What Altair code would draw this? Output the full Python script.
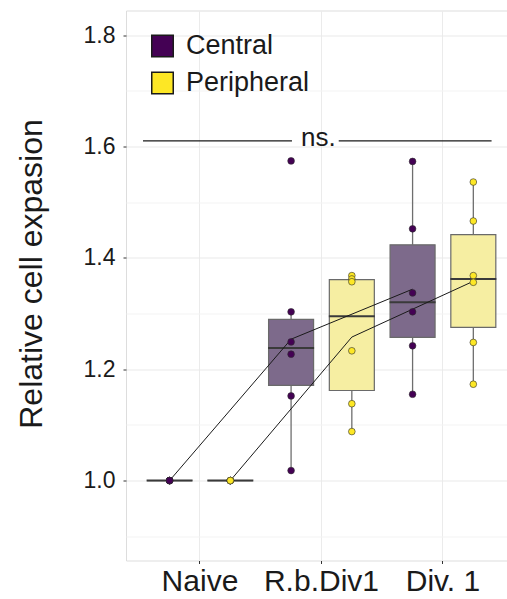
import altair as alt
import pandas as pd

# ---- data ----
categories = ["Naive", "R.b.Div1", "Div. 1"]
groups = ["Central", "Peripheral"]

naive_central = [1.0, 1.0, 1.0, 1.0, 1.0, 1.0]
naive_peripheral = [1.0, 1.0, 1.0, 1.0, 1.0, 1.0]
rb_central = [1.574, 1.303, 1.249, 1.227, 1.152, 1.018]
rb_peripheral = [1.368, 1.362, 1.357, 1.233, 1.138, 1.088]
div_central = [1.573, 1.452, 1.337, 1.303, 1.242, 1.155]
div_peripheral = [1.536, 1.466, 1.368, 1.356, 1.248, 1.173]

y_ticks = [0.9, 1.0, 1.1, 1.2, 1.3, 1.4, 1.5, 1.6, 1.7, 1.8]

# significance annotation (x in category units, 1 = Naive)
sig_x_start = [0.531, 2.142]
sig_x_end = [1.757, 3.40]
sig_y = 1.61
sig_label = "ns."
sig_label_x = 1.975

series = {
    ("Naive", "Central"): naive_central,
    ("Naive", "Peripheral"): naive_peripheral,
    ("R.b.Div1", "Central"): rb_central,
    ("R.b.Div1", "Peripheral"): rb_peripheral,
    ("Div. 1", "Central"): div_central,
    ("Div. 1", "Peripheral"): div_peripheral,
}
rows = []
for (c, g), vals in series.items():
    for v in vals:
        rows.append({"cat": c, "group": g, "value": v})
df = pd.DataFrame(rows)

FONT = "Liberation Sans"
TXT = "#1a1a1a"
Y_DOMAIN = [0.8565, 1.844]

x_enc = alt.X(
    "cat:N",
    sort=categories,
    scale=alt.Scale(domain=categories, paddingInner=0, paddingOuter=0.068, align=0.8),
    axis=alt.Axis(
        title=None, labelAngle=0, labelFont=FONT, labelFontSize=30, labelColor=TXT,
        labelPadding=3, tickSize=3, tickColor="#333333", domain=False,
        grid=True, gridColor="#ebebeb", gridWidth=1,
    ),
)
xo_enc = alt.XOffset("group:N", scale=alt.Scale(domain=groups, paddingInner=0, paddingOuter=0))
y_scale = alt.Scale(domain=Y_DOMAIN, nice=False, zero=False)

y_axis = alt.Axis(
    title="Relative cell expasion",
    values=y_ticks,
    labelExpr="round(datum.value*10) % 2 == 0 ? format(datum.value, '.1f') : ''",
    labelFont=FONT, labelFontSize=23, labelColor=TXT, labelPadding=8,
    tickSize=3,
    tickColor={"condition": {"test": "round(datum.value*10) % 2 == 0", "value": "#333333"}, "value": "transparent"},
    gridColor={"condition": {"test": "round(datum.value*10) % 2 == 0", "value": "#e9e9e9"}, "value": "#f3f3f3"},
    domain=False,
    titleFont=FONT, titleFontSize=32, titleFontWeight="normal", titleColor=TXT,
    titleX=-85, titleY=263, titleAlign="center", titleBaseline="alphabetic", titleAngle=-90,
)

base = alt.Chart(df)

stats = base.transform_joinaggregate(
    q1="q1(value)", q3="q3(value)", med="median(value)", groupby=["cat", "group"]
).transform_calculate(
    lo="datum.q1 - 1.5*(datum.q3 - datum.q1)",
    hi="datum.q3 + 1.5*(datum.q3 - datum.q1)",
).transform_filter(
    "datum.value >= datum.lo && datum.value <= datum.hi"
).transform_aggregate(
    Q1="min(q1)", Q3="min(q3)", MED="min(med)", WLO="min(value)", WHI="max(value)",
    groupby=["cat", "group"],
).transform_calculate(
    boxfill="datum.group == 'Central' ? '#7d6a8b' : '#f6eea2'"
)

whisk_lo = stats.mark_rule(color="#6e6e6e", strokeWidth=1.3).encode(
    x=x_enc, xOffset=xo_enc,
    y=alt.Y("WLO:Q", scale=y_scale, axis=y_axis), y2="Q1:Q",
)
whisk_hi = stats.mark_rule(color="#6e6e6e", strokeWidth=1.3).encode(
    x=x_enc, xOffset=xo_enc,
    y=alt.Y("Q3:Q", scale=y_scale), y2="WHI:Q",
)
boxes = stats.mark_bar(size=45, stroke="#6a6a6a", strokeWidth=1.2, opacity=1).encode(
    x=x_enc, xOffset=xo_enc,
    y=alt.Y("Q1:Q", scale=y_scale), y2="Q3:Q",
    fill=alt.Fill("boxfill:N", scale=None),
)
medians = stats.mark_tick(size=46, thickness=2, color="#3a3a3a", opacity=1).encode(
    x=x_enc, xOffset=xo_enc,
    y=alt.Y("MED:Q", scale=y_scale),
)

mean_lines = base.mark_line(color="#1a1a1a", strokeWidth=1).encode(
    x=x_enc, xOffset=xo_enc,
    y=alt.Y("mean(value):Q", scale=y_scale),
    detail="group:N",
)

points = base.mark_point(
    shape="circle", filled=True, size=45, opacity=1, stroke="#2e2e2e", strokeWidth=0.6
).encode(
    x=x_enc, xOffset=xo_enc,
    y=alt.Y("value:Q", scale=y_scale),
    color=alt.Color(
        "group:N",
        scale=alt.Scale(domain=groups, range=["#440154", "#FDE725"]),
        legend=alt.Legend(
            title=None, orient="none", legendX=23, legendY=22,
            symbolType="square", symbolSize=462, symbolStrokeColor="#1a1a1a",
            symbolStrokeWidth=1.5, symbolOpacity=1,
            labelFont=FONT, labelFontSize=27, labelColor=TXT, labelOffset=10,
            rowPadding=8,
        ),
    ),
)

main = alt.layer(whisk_lo, whisk_hi, boxes, medians, mean_lines, points)

sig_df = pd.DataFrame({"x": sig_x_start, "x2": sig_x_end, "y": [sig_y] * len(sig_x_start)})
sig_text_df = pd.DataFrame({"x": [sig_label_x], "y": [sig_y], "t": [sig_label]})
ux = alt.Scale(domain=[0.391, 3.527], nice=False, zero=False)
sig_lines = alt.Chart(sig_df).mark_rule(color="#1a1a1a", strokeWidth=1.2).encode(
    x=alt.X("x:Q", scale=ux, axis=None), x2="x2:Q",
    y=alt.Y("y:Q", scale=y_scale),
)
sig_text = alt.Chart(sig_text_df).mark_text(
    font=FONT, fontSize=26, color=TXT, baseline="alphabetic", align="center", dy=5
).encode(
    x=alt.X("x:Q", scale=ux, axis=None),
    y=alt.Y("y:Q", scale=y_scale),
    text="t:N",
)
annot = alt.layer(sig_lines, sig_text)

chart = alt.layer(main, annot).resolve_scale(x="independent").properties(
    width=381, height=550,
    autosize=alt.AutoSizeParams(type="none"),
    padding={"left": 126, "top": 10.5, "right": 0, "bottom": 38.5},
).configure_view(stroke="#c4c4c4", strokeWidth=1).configure(background="white")

chart.save("out.html", embed_options={"renderer": "svg", "actions": False})
